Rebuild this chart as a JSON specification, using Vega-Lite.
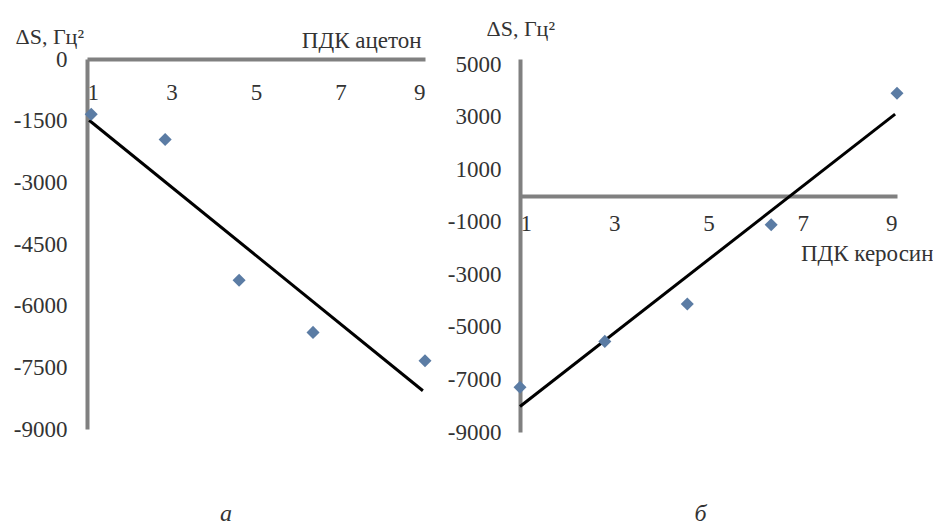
{
  "$schema": "https://vega.github.io/schema/vega-lite/v6.json",
  "background": "white",
  "padding": {"left": 13, "top": 17, "right": 0, "bottom": 0},
  "bounds": "flush",
  "spacing": 95,
  "config": {"view": {"stroke": null}},
  "datasets": {
    "acetone": [
      {"x": 1.1, "y": -1345},
      {"x": 2.85, "y": -1960},
      {"x": 4.6, "y": -5380},
      {"x": 6.35, "y": -6650},
      {"x": 9.0, "y": -7340}
    ],
    "acetoneTrend": [
      {"x": 1.05, "y": -1490},
      {"x": 8.95, "y": -8070}
    ],
    "kerosene": [
      {"x": 1.0, "y": -7300},
      {"x": 2.8, "y": -5550},
      {"x": 4.55, "y": -4130},
      {"x": 6.33, "y": -1110},
      {"x": 9.0, "y": 3900}
    ],
    "keroseneTrend": [
      {"x": 1.0, "y": -8030},
      {"x": 8.96, "y": 3100}
    ]
  },
  "hconcat": [
    {
      "width": 338,
      "height": 370,
      "title": {"text": "а", "orient": "bottom", "frame": "group", "anchor": "middle", "dx": -30, "offset": 80, "baseline": "alphabetic", "font": "Liberation Serif", "fontStyle": "italic", "fontWeight": "normal", "fontSize": 24, "color": "#333"},
      "encoding": {
        "x": {"field": "x", "type": "quantitative", "scale": {"domain": [1, 9], "nice": false, "zero": false},
          "axis": {"orient": "bottom", "offset": -370, "values": [1, 3, 5, 7, 9], "ticks": false, "grid": false, "domainColor": "#808080", "domainWidth": 4, "labelFont": "Liberation Serif", "labelFontSize": 23, "labelColor": "#333", "labelPadding": 22, "labelDx": 5, "labelExpr": "'' + datum.value",
            "title": "ПДК ацетон", "titleFont": "Liberation Serif", "titleFontSize": 23, "titleFontWeight": "normal", "titleColor": "#333", "titleX": 334, "titleY": -12, "titleAlign": "right", "titleAnchor": null, "titleBaseline": "alphabetic"}},
        "y": {"field": "y", "type": "quantitative", "scale": {"domain": [-9000, 0], "nice": false, "zero": false},
          "axis": {"values": [0, -1500, -3000, -4500, -6000, -7500, -9000], "ticks": false, "grid": false, "domainColor": "#808080", "domainWidth": 4, "labelFont": "Liberation Serif", "labelFontSize": 23, "labelColor": "#333", "labelPadding": 20, "labelExpr": "'' + datum.value",
            "title": "ΔS, Гц²", "titleFont": "Liberation Serif", "titleFontSize": 22, "titleFontWeight": "normal", "titleColor": "#333", "titleAngle": 0, "titleX": -72, "titleY": -16, "titleAlign": "left", "titleAnchor": null, "titleBaseline": "alphabetic"}}
      },
      "layer": [
        {"data": {"name": "acetoneTrend"}, "mark": {"type": "line", "color": "black", "strokeWidth": 3}},
        {"data": {"name": "acetone"}, "mark": {"type": "point", "shape": "diamond", "filled": true, "size": 170, "color": "#5b7ca4", "opacity": 1}}
      ]
    },
    {
      "width": 377,
      "height": 373,
      "title": {"text": "б", "orient": "bottom", "frame": "group", "anchor": "middle", "dx": -8, "offset": 77, "baseline": "alphabetic", "font": "Liberation Serif", "fontStyle": "italic", "fontWeight": "normal", "fontSize": 24, "color": "#333"},
      "encoding": {
        "x": {"field": "x", "type": "quantitative", "scale": {"domain": [1, 9], "nice": false, "zero": false},
          "axis": {"orient": "bottom", "offset": -236, "values": [1, 3, 5, 7, 9], "ticks": false, "grid": false, "domainColor": "#808080", "domainWidth": 4, "labelFont": "Liberation Serif", "labelFontSize": 23, "labelColor": "#333", "labelPadding": 16, "labelExpr": "'' + datum.value",
            "title": "ПДК керосин", "titleFont": "Liberation Serif", "titleFontSize": 23, "titleFontWeight": "normal", "titleColor": "#333", "titleX": 413, "titleY": 64, "titleAlign": "right", "titleAnchor": null, "titleBaseline": "alphabetic"}},
        "y": {"field": "y", "type": "quantitative", "scale": {"domain": [-9000, 5200], "nice": false, "zero": false},
          "axis": {"values": [5000, 3000, 1000, -1000, -3000, -5000, -7000, -9000], "ticks": false, "grid": false, "domainColor": "#808080", "domainWidth": 4, "labelFont": "Liberation Serif", "labelFontSize": 23, "labelColor": "#333", "labelPadding": 19, "labelExpr": "'' + datum.value",
            "title": "ΔS, Гц²", "titleFont": "Liberation Serif", "titleFontSize": 22, "titleFontWeight": "normal", "titleColor": "#333", "titleAngle": 0, "titleX": -34, "titleY": -24, "titleAlign": "left", "titleAnchor": null, "titleBaseline": "alphabetic"}}
      },
      "layer": [
        {"data": {"name": "keroseneTrend"}, "mark": {"type": "line", "color": "black", "strokeWidth": 3}},
        {"data": {"name": "kerosene"}, "mark": {"type": "point", "shape": "diamond", "filled": true, "size": 170, "color": "#5b7ca4", "opacity": 1}}
      ]
    }
  ]
}
